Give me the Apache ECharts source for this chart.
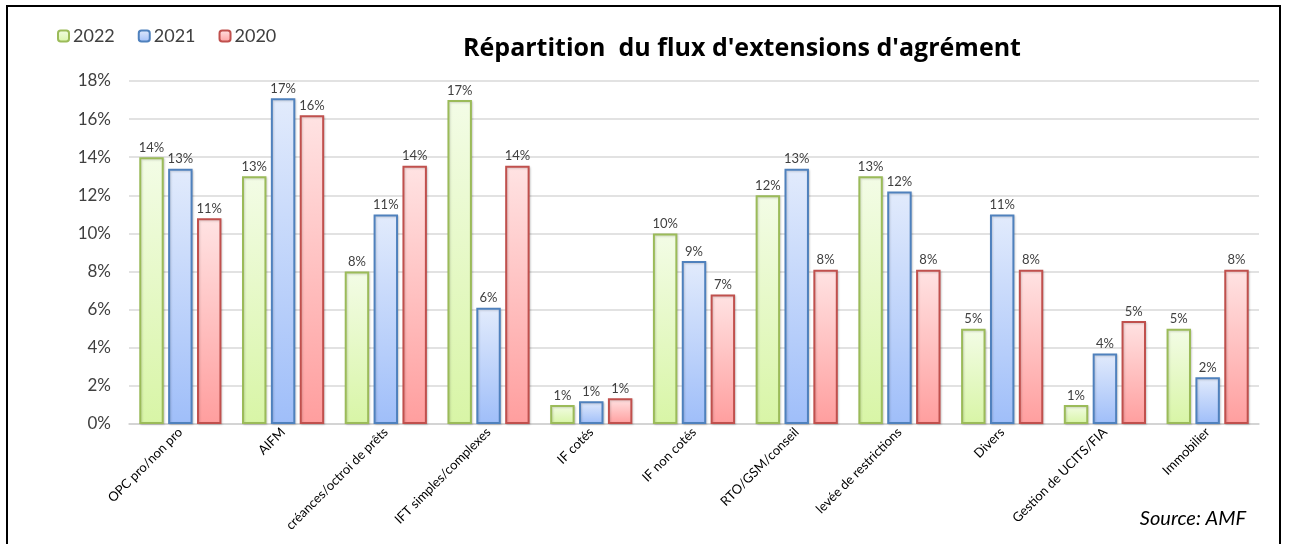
<!DOCTYPE html>
<html>
<head>
<meta charset="utf-8">
<script src="https://cdn.jsdelivr.net/npm/echarts@6/dist/echarts.min.js"></script>
<style>
  html, body { margin: 0; padding: 0; background: #fff; }
  #frame { position: absolute; left: 6px; top: 5px; width: 1275px; height: 580px; border: 2px solid #000; box-sizing: border-box; }
  #chart { position: absolute; left: 0; top: 0; width: 1290px; height: 544px; }
</style>
</head>
<body>
<div id="frame"></div>
<div id="chart"></div>
<script>
const categories = [
  'OPC pro/non pro', 'AIFM', 'créances/octroi de prêts', 'IFT simples/complexes',
  'IF cotés', 'IF non cotés', 'RTO/GSM/conseil', 'levée de restrictions',
  'Divers', 'Gestion de UCITS/FIA', 'Immobilier'
];
const values2022 = [14.0, 13.0, 8.0, 17.0, 1.0, 10.0, 12.0, 13.0, 5.0, 1.0, 5.0];
const values2021 = [13.4, 17.1, 11.0, 6.1, 1.2, 8.55, 13.4, 12.2, 11.0, 3.7, 2.45];
const values2020 = [10.8, 16.2, 13.55, 13.55, 1.35, 6.8, 8.1, 8.1, 8.1, 5.4, 8.1];
const yTicks = { min: 0, max: 18, interval: 2 };

const FONT = 'Lato, "Open Sans", sans-serif';

function grad(top, bottom) {
  return new echarts.graphic.LinearGradient(0, 0, 0, 1, [
    { offset: 0, color: top }, { offset: 1, color: bottom }
  ]);
}

const palette = {
  '2022': { fill: grad('#f3fce6', '#d8f5a6'), border: '#9bbb59' },
  '2021': { fill: grad('#e2ebfc', '#9fbef9'), border: '#4f81bd' },
  '2020': { fill: grad('#ffe3e3', '#ff9e9e'), border: '#c0504d' }
};

function makeSeries(name, data) {
  return {
    name, type: 'bar', data,
    barGap: '18%', barCategoryGap: '20%',
    itemStyle: { color: palette[name].fill, borderColor: palette[name].border, borderWidth: 2,
      shadowColor: 'rgba(0,0,0,0.15)', shadowBlur: 2, shadowOffsetX: 1, shadowOffsetY: 1 },
    label: {
      show: true, position: 'top', distance: 3,
      fontFamily: FONT, fontSize: 13, color: '#404040',
      formatter: p => Math.round(p.value) + '%'
    }
  };
}

const chart = echarts.init(document.getElementById('chart'), null, { renderer: 'canvas' });
chart.setOption({
  animation: false,
  textStyle: { fontFamily: FONT },
  title: {
    text: "Répartition  du flux d'extensions d'agrément",
    left: 737, top: 31, textAlign: 'center',
    textStyle: { fontFamily: '"Open Sans", Lato, sans-serif', fontSize: 25, fontWeight: 'bold', color: '#000' }
  },
  legend: {
    left: 52, top: 22, itemWidth: 11, itemHeight: 11, itemGap: 23,
    textStyle: { fontFamily: FONT, fontSize: 18, color: '#404040', padding: [0, 0, 0, -1] },
    data: ['2022', '2021', '2020']
  },
  grid: { left: 129, right: 31, top: 81, bottom: 120 },
  xAxis: {
    type: 'category', data: categories,
    axisLine: { lineStyle: { color: '#d0d0d0', width: 1.5 } },
    axisTick: { show: false },
    axisLabel: { rotate: 45, interval: 0, fontFamily: FONT, fontSize: 13, color: '#000', margin: 6 }
  },
  yAxis: {
    type: 'value', min: yTicks.min, max: yTicks.max, interval: yTicks.interval,
    axisLabel: { formatter: '{value}%', fontFamily: FONT, fontSize: 17, color: '#404040', margin: 18 },
    splitLine: { lineStyle: { color: '#d9d9d9', width: 1.5 } },
    axisLine: { show: false }, axisTick: { show: false }
  },
  graphic: [{
    type: 'text', right: 44, top: 509,
    style: { text: 'Source: AMF', fontFamily: FONT, fontSize: 20, fontStyle: 'italic', fill: '#000' }
  }],
  series: [
    makeSeries('2022', values2022),
    makeSeries('2021', values2021),
    makeSeries('2020', values2020)
  ]
});
</script>
</body>
</html>
